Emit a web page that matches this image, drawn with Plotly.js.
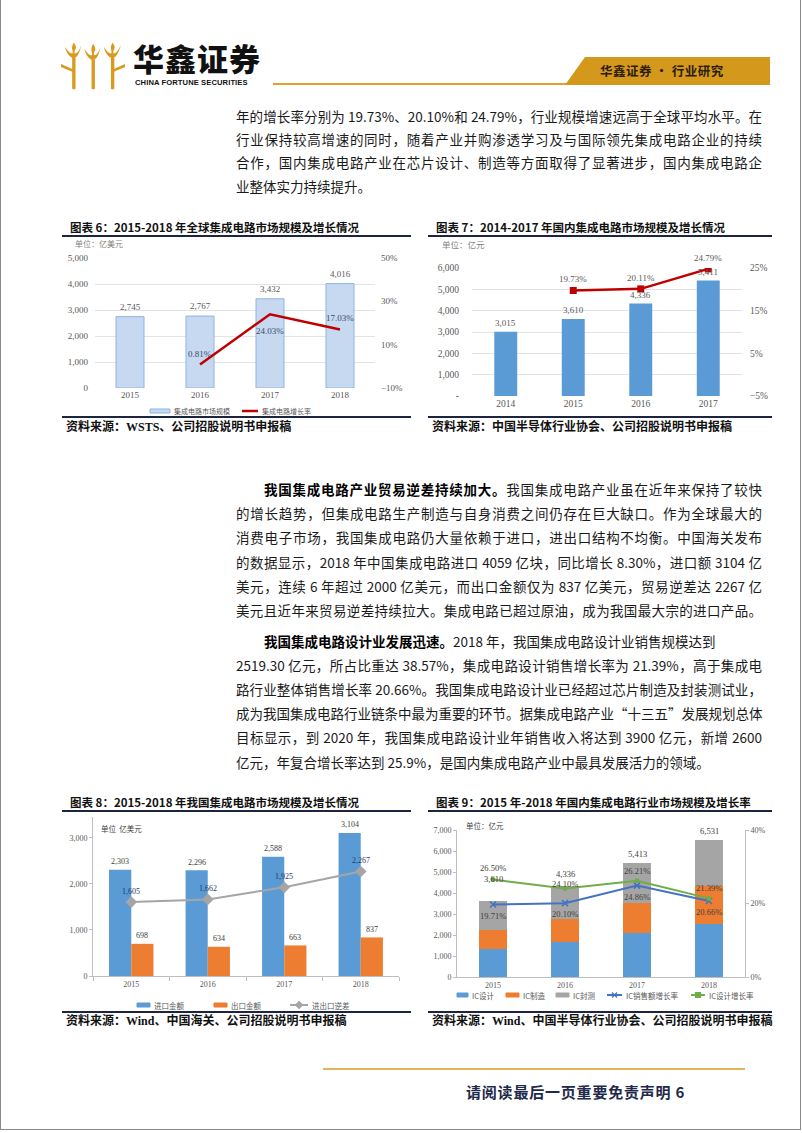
<!DOCTYPE html>
<html><head><meta charset="utf-8">
<script src="https://cdn.plot.ly/plotly-3.0.1.min.js"></script>
<style>
body{margin:0;background:#fff;width:802px;height:1133px;position:relative;overflow:hidden;font-family:"Noto Sans CJK SC",sans-serif;}
.frame{position:absolute;left:0;top:-2px;width:799px;height:1131px;border:1px solid #8a8a8a;border-top:none;}
.ln{position:absolute;left:236px;width:526px;height:20px;font-size:13.5px;line-height:20px;white-space:nowrap;color:#1a1a1a;text-align:justify;text-align-last:justify;}
.ln.short{text-align-last:left;}
.ln.ind{left:264px;width:498px;}
.ln b{font-weight:700;color:#000;}
.ttl{position:absolute;font-size:11.5px;font-weight:700;color:#111;white-space:nowrap;line-height:16px;}
.rule{position:absolute;height:2px;background:#1b2440;}
.src{position:absolute;font-size:12px;font-weight:700;font-family:"Liberation Serif","Noto Sans CJK SC",serif;white-space:nowrap;line-height:16px;color:#111;}
.box{position:absolute;}
</style></head>
<body>
<div class="frame"></div>

<!-- header -->
<svg class="box" style="left:61px;top:40px" width="64" height="52" viewBox="0 0 66 52">
  <g fill="#d99a1f">
    <path d="M4,6 C6,14 9,17 13,18 C17,17 19,13 21,4 C19,10 17,13 14,13 L14,10 C16,8 16,5 13,2 C11,6 11,8 12,10 L12,13 C9,13 7,11 4,6 Z"/>
    <rect x="11.5" y="17" width="3.5" height="33" rx="1"/>
    <path d="M24,8 C26,16 29,19 33,20 C37,19 39,15 41,6 C39,12 37,15 34,15 L34,12 C36,10 36,7 33,3 C31,7 31,10 32,12 L32,15 C29,15 27,13 24,8 Z"/>
    <rect x="31.5" y="19" width="3.5" height="31" rx="1"/>
    <path d="M44,6 C46,14 49,17 53,18 C57,17 59,13 62,4 C59,10 57,13 54,13 L54,10 C56,8 56,5 53,2 C51,6 51,8 52,10 L52,13 C49,13 47,11 44,6 Z"/>
    <rect x="51.5" y="17" width="3.5" height="33" rx="1"/>
    <path d="M0,24 L14,30 L14,33 L0,27 Z"/>
    <path d="M66,24 L52,30 L52,33 L66,27 Z"/>
  </g>
</svg>
<div class="box" style="left:133px;top:40px;font-size:31px;font-weight:900;letter-spacing:1px;line-height:36px;color:#111;">华鑫证券</div>
<div class="box" style="left:135px;top:78px;font-size:7.6px;font-weight:700;font-family:'Liberation Sans',sans-serif;color:#111;white-space:nowrap;letter-spacing:0.1px;">CHINA FORTUNE SECURITIES</div>
<div class="rule" style="left:273px;top:83px;width:295px;height:2px;background:#dfa131;"></div>
<svg class="box" style="left:560px;top:56px" width="212" height="31">
  <polygon points="5,29 25,1 210,1 210,29" fill="#d4991c"/>
</svg>
<div class="box" style="left:600px;top:63px;font-size:12.5px;font-weight:700;color:#2a1c08;white-space:nowrap;letter-spacing:0.5px;line-height:16px;">华鑫证券 • 行业研究</div>

<!-- paragraph 1 -->
<div class="ln" style="top:106px">年的增长率分别为 19.73%、20.10%和 24.79%，行业规模增速远高于全球平均水平。在</div>
<div class="ln" style="top:129px">行业保持较高增速的同时，随着产业并购渗透学习及与国际领先集成电路企业的持续</div>
<div class="ln" style="top:152px">合作，国内集成电路产业在芯片设计、制造等方面取得了显著进步，国内集成电路企</div>
<div class="ln short" style="top:176px">业整体实力持续提升。</div>

<!-- chart titles row 1 -->
<div class="ttl" style="left:70px;top:219px">图表 6：2015-2018 年全球集成电路市场规模及增长情况</div>
<div class="ttl" style="left:436px;top:219px">图表 7：2014-2017 年国内集成电路市场规模及增长情况</div>
<div class="rule" style="left:62px;top:235px;width:349px"></div>
<div class="rule" style="left:428px;top:235px;width:344px"></div>
<div id="c6" class="box" style="left:62px;top:238px;width:350px;height:178px"></div>
<div id="c7" class="box" style="left:428px;top:238px;width:345px;height:178px"></div>
<div class="rule" style="left:62px;top:416px;width:349px"></div>
<div class="rule" style="left:428px;top:416px;width:344px"></div>
<div class="src" style="left:66px;top:419px">资料来源：WSTS、公司招股说明书申报稿</div>
<div class="src" style="left:432px;top:419px">资料来源：中国半导体行业协会、公司招股说明书申报稿</div>

<!-- paragraph 2 -->
<div class="ln ind" style="top:479px"><b>我国集成电路产业贸易逆差持续加大。</b>我国集成电路产业虽在近年来保持了较快</div>
<div class="ln" style="top:503px">的增长趋势，但集成电路生产制造与自身消费之间仍存在巨大缺口。作为全球最大的</div>
<div class="ln" style="top:527px">消费电子市场，我国集成电路仍大量依赖于进口，进出口结构不均衡。中国海关发布</div>
<div class="ln" style="top:552px">的数据显示，2018 年中国集成电路进口 4059 亿块，同比增长 8.30%，进口额 3104 亿</div>
<div class="ln" style="top:576px">美元，连续 6 年超过 2000 亿美元，而出口金额仅为 837 亿美元，贸易逆差达 2267 亿</div>
<div class="ln" style="top:600px">美元且近年来贸易逆差持续拉大。集成电路已超过原油，成为我国最大宗的进口产品。</div>

<!-- paragraph 3 -->
<div class="ln ind short" style="top:631px"><b>我国集成电路设计业发展迅速。</b>2018 年，我国集成电路设计业销售规模达到</div>
<div class="ln" style="top:655px">2519.30 亿元，所占比重达 38.57%，集成电路设计销售增长率为 21.39%，高于集成电</div>
<div class="ln" style="top:679px">路行业整体销售增长率 20.66%。我国集成电路设计业已经超过芯片制造及封装测试业，</div>
<div class="ln" style="top:703px">成为我国集成电路行业链条中最为重要的环节。据集成电路产业“十三五”发展规划总体</div>
<div class="ln" style="top:727px">目标显示，到 2020 年，我国集成电路设计业年销售收入将达到 3900 亿元，新增 2600</div>
<div class="ln short" style="top:752px">亿元，年复合增长率达到 25.9%，是国内集成电路产业中最具发展活力的领域。</div>

<!-- chart titles row 2 -->
<div class="ttl" style="left:70px;top:794px">图表 8：2015-2018 年我国集成电路市场规模及增长情况</div>
<div class="ttl" style="left:436px;top:794px">图表 9：2015 年-2018 年国内集成电路行业市场规模及增长率</div>
<div class="rule" style="left:62px;top:810px;width:349px"></div>
<div class="rule" style="left:428px;top:810px;width:344px"></div>
<div id="c8" class="box" style="left:62px;top:812px;width:350px;height:199px"></div>
<div id="c9" class="box" style="left:428px;top:812px;width:345px;height:199px"></div>
<div class="rule" style="left:62px;top:1011px;width:349px"></div>
<div class="rule" style="left:428px;top:1011px;width:344px"></div>
<div class="src" style="left:66px;top:1013px">资料来源：Wind、中国海关、公司招股说明书申报稿</div>
<div class="src" style="left:432px;top:1013px">资料来源：Wind、中国半导体行业协会、公司招股说明书申报稿</div>

<!-- footer -->
<div class="rule" style="left:323px;top:1068px;width:422px;height:2px;background:#e2b45c;"></div>
<div class="box" style="left:466px;top:1082px;font-size:15px;font-weight:700;color:#1f2a4a;white-space:nowrap;letter-spacing:0.8px;line-height:20px;">请阅读最后一页重要免责声明 6</div>

<script>
// ---------- data ----------
const c6Years = ['2015', '2016', '2017', '2018'];
const c6Market = [2745, 2767, 3432, 4016];
const c6GrowthYears = ['2016', '2017', '2018'];
const c6Growth = [0.81, 24.03, 17.03];

const c7Years = ['2014', '2015', '2016', '2017'];
const c7Market = [3015, 3610, 4336, 5411];
const c7GrowthYears = ['2015', '2016', '2017'];
const c7Growth = [19.73, 20.11, 24.79];

const c8Years = ['2015', '2016', '2017', '2018'];
const c8Import = [2303, 2296, 2588, 3104];
const c8Export = [698, 634, 663, 837];
const c8Deficit = [1605, 1662, 1925, 2267];

const c9Years = ['2015', '2016', '2017', '2018'];
const c9Design = [1325, 1644, 2073, 2519];
const c9Manufacture = [901, 1127, 1448, 1818];
const c9Packaging = [1384, 1565, 1892, 2194];
const c9SalesGrowth = [19.71, 20.10, 24.86, 20.66];
const c9DesignGrowth = [26.50, 24.10, 26.21, 21.39];

// ---------- helpers ----------
const NUM = 'Liberation Serif, serif';
const CJK = 'Noto Sans CJK SC, sans-serif';
const GREY = '#595959';
const fmt = v => v.toLocaleString('en-US');
const pct = v => v.toFixed(2) + '%';
function labels(cats, xs, ys, fn, yref, yshift, color, size, xshift) {
  return xs.map((x, i) => ({
    x: cats.indexOf(x), y: ys[i], xref: 'x', yref: yref, text: fn(ys[i]), showarrow: false,
    yanchor: 'middle', yshift: Array.isArray(yshift) ? yshift[i] : yshift, xshift: xshift || 0,
    font: {family: NUM, size: size || 9, color: color || GREY}
  }));
}
const catAxis = cats => ({type: 'category', categoryorder: 'array', categoryarray: cats, range: [-0.5, cats.length - 0.5]});
const cfg = {staticPlot: true, displayModeBar: false};

// legend drawn with shapes + annotations; positions in div-local pixels
function makeLegend(W, H, m, traces, spec) {
  const pw = W - m.l - m.r, ph = H - m.t - m.b;
  const px = x => (x - m.l) / pw, py = y => 1 - (y - m.t) / ph;
  const shapes = [], anns = [];
  spec.items.forEach((it, i) => {
    const tr = traces[i];
    const y = spec.y;
    if (tr.type === 'bar') {
      shapes.push({type: 'rect', xref: 'paper', yref: 'paper', x0: px(it.x), x1: px(it.x + it.w),
        y0: py(y + 2), y1: py(y - 2), fillcolor: tr.marker.color,
        line: {color: (tr.marker.line && tr.marker.line.color) || tr.marker.color, width: 1}});
    } else {
      shapes.push({type: 'line', xref: 'paper', yref: 'paper', x0: px(it.x), x1: px(it.x + it.w),
        y0: py(y), y1: py(y), line: {color: tr.line.color, width: tr.line.width}});
      if (tr.marker) {
        const cx = it.x + it.w / 2, r = 2.5;
        let path;
        if (tr.marker.symbol === 'diamond') path = `M${px(cx)},${py(y - r - 1)} L${px(cx + r + 1)},${py(y)} L${px(cx)},${py(y + r + 1)} L${px(cx - r - 1)},${py(y)} Z`;
        else if (tr.marker.symbol === 'circle') path = `M${px(cx - r)},${py(y - r)} L${px(cx + r)},${py(y - r)} L${px(cx + r)},${py(y + r)} L${px(cx - r)},${py(y + r)} Z`;
        else path = `M${px(cx - r)},${py(y - r)} L${px(cx + r)},${py(y + r)} M${px(cx - r)},${py(y + r)} L${px(cx + r)},${py(y - r)}`;
        const mc = tr.marker.color || tr.line.color;
        shapes.push({type: 'path', xref: 'paper', yref: 'paper', path: path,
          fillcolor: tr.marker.symbol === 'diamond' || tr.marker.symbol === 'circle' ? mc : 'rgba(0,0,0,0)',
          line: {color: mc, width: 1.2}});
      }
    }
    anns.push({xref: 'paper', yref: 'paper', x: px(it.x + it.w + 2), y: py(y), xanchor: 'left', yanchor: 'middle',
      showarrow: false, text: tr.name, font: {family: CJK, size: spec.size || 8, color: GREY}});
  });
  return {shapes, anns};
}

// ---------- chart 6 ----------
const t6 = [
  {type: 'bar', x: c6Years, y: c6Market, name: '集成电路市场规模',
   marker: {color: '#c6d9f1', line: {color: '#8fb3e0', width: 1}}},
  {type: 'scatter', mode: 'lines', x: c6GrowthYears, y: c6Growth, yaxis: 'y2', name: '集成电路增长率',
   line: {color: '#c00000', width: 2.5}}
];
const m6 = {l: 33, r: 37, t: 20, b: 28, autoexpand: false};
const lg6 = makeLegend(350, 178, m6, t6, {y: 173, size: 7, items: [{x: 88, w: 20}, {x: 180, w: 16}]});
Plotly.newPlot('c6', t6, {
  width: 350, height: 178, margin: m6,
  paper_bgcolor: '#fff', plot_bgcolor: '#fff', bargap: 0.6, showlegend: false,
  xaxis: Object.assign(catAxis(c6Years), {tickfont: {family: NUM, size: 9, color: GREY}, showline: false, ticks: ''}),
  yaxis: {range: [0, 5000], dtick: 1000, tickformat: ',', gridcolor: '#e3e3e3', zeroline: false,
          tickfont: {family: NUM, size: 9, color: GREY}, ticklabelstandoff: 6},
  yaxis2: {overlaying: 'y', side: 'right', range: [-10, 50], tick0: -10, dtick: 20, ticksuffix: '%', showgrid: false,
           zeroline: false, tickfont: {family: NUM, size: 9, color: GREY}, ticklabelstandoff: 5},
  shapes: lg6.shapes,
  annotations: [
    ...labels(c6Years, c6Years, c6Market, fmt, 'y', 10),
    ...labels(c6Years, c6GrowthYears, c6Growth, pct, 'y2', [11, -17, 11], '#3b4a6b'),
    {xref: 'paper', yref: 'paper', x: -0.08, y: 1.108, xanchor: 'left', yanchor: 'middle', showarrow: false,
     text: '单位：亿美元', font: {family: CJK, size: 8, color: '#7f7f7f'}},
    ...lg6.anns
  ]
}, cfg);

// ---------- chart 7 ----------
Plotly.newPlot('c7', [
  {type: 'bar', x: c7Years, y: c7Market, name: '市场规模', marker: {color: '#5b9bd5'}},
  {type: 'scatter', mode: 'lines+markers', x: c7GrowthYears, y: c7Growth, yaxis: 'y2', name: '增长率',
   line: {color: '#c00000', width: 2.5}, marker: {symbol: 'square', size: 7, color: '#c00000'}}
], {
  width: 345, height: 178, margin: {l: 44, r: 31, t: 30, b: 20, autoexpand: false},
  paper_bgcolor: '#fff', plot_bgcolor: '#fff', bargap: 0.66, showlegend: false,
  xaxis: Object.assign(catAxis(c7Years), {tickfont: {family: NUM, size: 9.5, color: GREY}, showline: false, ticks: ''}),
  yaxis: {range: [0, 6000], tickvals: [0, 1000, 2000, 3000, 4000, 5000, 6000],
          ticktext: ['-', '1,000', '2,000', '3,000', '4,000', '5,000', '6,000'],
          gridcolor: '#e3e3e3', zeroline: false, tickfont: {family: NUM, size: 9.5, color: GREY}, ticklabelstandoff: 12},
  yaxis2: {overlaying: 'y', side: 'right', range: [-5, 25], tick0: -5, dtick: 10, ticksuffix: '%', showgrid: false,
           zeroline: false, tickfont: {family: NUM, size: 9.5, color: GREY}, ticklabelstandoff: 7},
  annotations: [
    ...labels(c7Years, c7Years, c7Market, fmt, 'y', 9),
    ...labels(c7Years, c7GrowthYears, c7Growth, pct, 'y2', 11),
    {xref: 'paper', yref: 'paper', x: -0.12, y: 1.185, xanchor: 'left', yanchor: 'middle', showarrow: false,
     text: '单位：亿元', font: {family: CJK, size: 8.5, color: '#7f7f7f'}}
  ]
}, cfg);

// ---------- chart 8 ----------
const t8 = [
  {type: 'bar', x: c8Years, y: c8Import, name: '进口金额', marker: {color: '#5b9bd5'}},
  {type: 'bar', x: c8Years, y: c8Export, name: '出口金额', marker: {color: '#ed7d31'}},
  {type: 'scatter', mode: 'lines+markers', x: c8Years, y: c8Deficit, name: '进出口逆差',
   line: {color: '#a5a5a5', width: 2}, marker: {symbol: 'diamond', size: 9, color: '#a5a5a5'}}
];
const m8 = {l: 31, r: 13, t: 5, b: 35, autoexpand: false};
const lg8 = makeLegend(350, 199, m8, t8, {y: 193, size: 7.5, items: [{x: 75, w: 13}, {x: 152, w: 13}, {x: 228, w: 18}]});
Plotly.newPlot('c8', t8, {
  width: 350, height: 199, margin: m8,
  paper_bgcolor: '#fff', plot_bgcolor: '#fff', barmode: 'group', bargap: 0.42, bargroupgap: 0, showlegend: false,
  xaxis: Object.assign(catAxis(c8Years), {tickfont: {family: NUM, size: 8, color: GREY}, showline: true, linecolor: '#bfbfbf',
          ticks: 'outside', tickson: 'boundaries', ticklen: 4, tickcolor: '#bfbfbf'}),
  yaxis: {range: [0, 3450], dtick: 1000, tickformat: ',', showgrid: false, zeroline: false, showline: true,
          linecolor: '#bfbfbf', ticks: 'outside', ticklen: 3, tickcolor: '#bfbfbf',
          tickfont: {family: NUM, size: 8, color: GREY}},
  shapes: lg8.shapes,
  annotations: [
    ...labels(c8Years, c8Years, c8Import, fmt, 'y', 8, '#404040', 8, -11),
    ...labels(c8Years, c8Years, c8Export, fmt, 'y', 8, '#404040', 8, 11),
    ...labels(c8Years, c8Years, c8Deficit, fmt, 'y', 11, '#1f3864', 8),
    {xref: 'paper', yref: 'paper', x: 0.02, y: 0.93, xanchor: 'left', yanchor: 'middle', showarrow: false,
     text: '单位  亿美元', font: {family: CJK, size: 7.5, color: '#404040'}},
    ...lg8.anns
  ]
}, cfg);

// ---------- chart 9 ----------
const c9Total = c9Years.map((_, i) => c9Design[i] + c9Manufacture[i] + c9Packaging[i]);
const t9 = [
  {type: 'bar', x: c9Years, y: c9Design, name: 'IC设计', marker: {color: '#5b9bd5'}},
  {type: 'bar', x: c9Years, y: c9Manufacture, name: 'IC制造', marker: {color: '#ed7d31'}},
  {type: 'bar', x: c9Years, y: c9Packaging, name: 'IC封测', marker: {color: '#a5a5a5'}},
  {type: 'scatter', mode: 'lines+markers', x: c9Years, y: c9SalesGrowth, yaxis: 'y2', name: 'IC销售额增长率',
   line: {color: '#4472c4', width: 2}, marker: {symbol: 'x-thin-open', size: 6, line: {color: '#4472c4', width: 1.5}}},
  {type: 'scatter', mode: 'lines+markers', x: c9Years, y: c9DesignGrowth, yaxis: 'y2', name: 'IC设计增长率',
   line: {color: '#70ad47', width: 2}, marker: {symbol: 'circle', size: 5, color: '#70ad47'}}
];
const m9 = {l: 29, r: 28, t: 18, b: 34, autoexpand: false};
const lg9 = makeLegend(345, 199, m9, t9, {y: 183, size: 7.5,
  items: [{x: 29, w: 11}, {x: 78, w: 13}, {x: 128, w: 13}, {x: 179, w: 15}, {x: 263, w: 14}]});
Plotly.newPlot('c9', t9, {
  width: 345, height: 199, margin: m9,
  paper_bgcolor: '#fff', plot_bgcolor: '#fff', barmode: 'stack', bargap: 0.6, showlegend: false,
  xaxis: Object.assign(catAxis(c9Years), {tickfont: {family: NUM, size: 8, color: GREY}, showline: true, linecolor: '#bfbfbf', ticks: ''}),
  yaxis: {range: [0, 7000], dtick: 1000, tickformat: ',', showgrid: false, zeroline: false, showline: true,
          linecolor: '#bfbfbf', ticks: 'outside', ticklen: 3, tickcolor: '#bfbfbf',
          tickfont: {family: NUM, size: 8, color: GREY}},
  yaxis2: {overlaying: 'y', side: 'right', range: [0, 40], dtick: 20, ticksuffix: '%', showgrid: false,
           zeroline: false, showline: true, linecolor: '#bfbfbf', ticks: 'outside', ticklen: 3, tickcolor: '#bfbfbf',
           tickfont: {family: NUM, size: 8, color: GREY}},
  shapes: lg9.shapes,
  annotations: [
    ...labels(c9Years, c9Years, c9Total, fmt, 'y', [22, 12, 9, 9], '#404040', 8.5),
    ...labels(c9Years, c9Years, c9DesignGrowth, pct, 'y2', [12, 4, 10, 10], '#404040', 8.5),
    ...labels(c9Years, c9Years, c9SalesGrowth, pct, 'y2', -11, '#404040', 8.5),
    {xref: 'paper', yref: 'paper', x: 0.025, y: 1.034, xanchor: 'left', yanchor: 'middle', showarrow: false,
     text: '单位：亿元', font: {family: CJK, size: 7.5, color: '#404040'}},
    ...lg9.anns
  ]
}, cfg);

// fit text lines that overflow
document.querySelectorAll('.ln').forEach(el => {
  if (el.scrollWidth > el.clientWidth + 1) {
    const s = el.clientWidth / el.scrollWidth;
    el.style.transformOrigin = 'left center';
    el.style.width = (el.clientWidth / s) + 'px';
    el.style.transform = 'scaleX(' + s + ')';
  }
});
</script>
</body></html>
